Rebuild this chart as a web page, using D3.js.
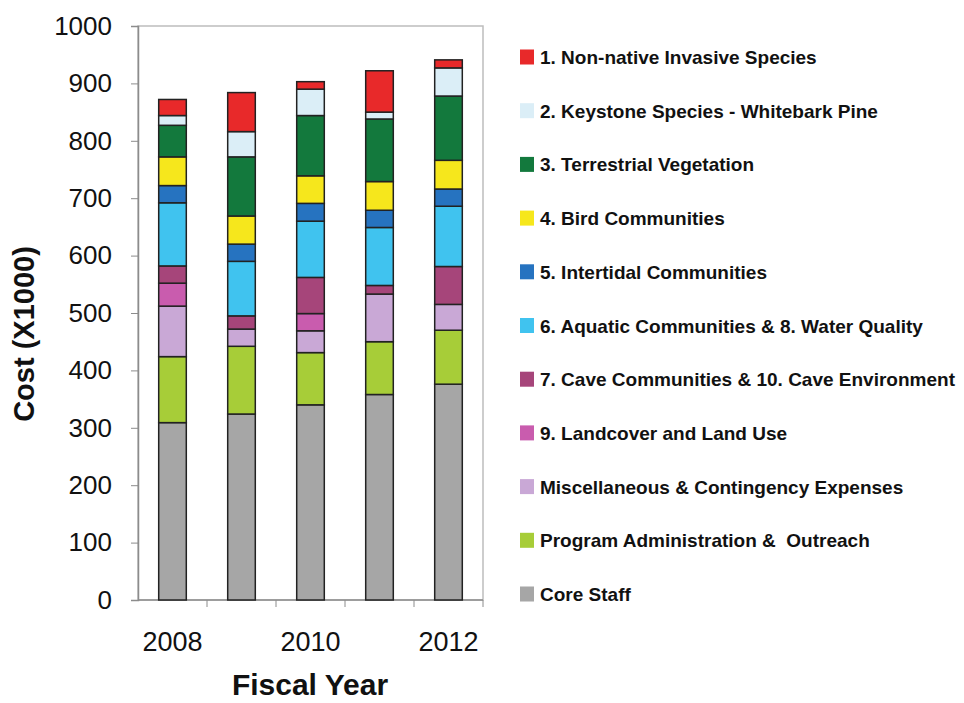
<!DOCTYPE html>
<html>
<head>
<meta charset="utf-8">
<script src="https://cdn.jsdelivr.net/npm/d3@7"></script>
<style>
  body { margin: 0; background: #fff; }
  svg text { font-family: "Liberation Sans", Arial, sans-serif; fill: #111; white-space: pre; }
</style>
</head>
<body>
<svg id="chart" width="964" height="703"></svg>
<script>
// fiscal years on the x axis
const years = ["2008", "2009", "2010", "2011", "2012"];
const yearLabels = ["2008", "", "2010", "", "2012"];
const yTicks = [0, 100, 200, 300, 400, 500, 600, 700, 800, 900, 1000];

// stacked from the bottom up (core staff first)
const categories = [
    "Core Staff",
    "Program Administration &  Outreach",
    "Miscellaneous & Contingency Expenses",
    "9. Landcover and Land Use",
    "7. Cave Communities & 10. Cave Environment",
    "6. Aquatic Communities & 8. Water Quality",
    "5. Intertidal Communities",
    "4. Bird Communities",
    "3. Terrestrial Vegetation",
    "2. Keystone Species - Whitebark Pine",
    "1. Non-native Invasive Species"
];
const colors = ["#a6a6a6", "#a7cd38", "#c9a8d6", "#c95cae", "#a6457a", "#40c3ef",
                "#2673c0", "#f6e71c", "#13793d", "#dbeef7", "#e8292a"];

// cost (x1000) per category, one value per year
const coreStaff   = [309, 324, 340, 358, 376];
const adminOut    = [115, 118, 91, 92, 94];
const misc        = [88, 30, 38, 83, 45];
const landcover   = [40, 0, 30, 0, 0];
const cave        = [30, 23, 63, 15, 66];
const aquatic     = [110, 95, 98, 101, 105];
const intertidal  = [30, 30, 31, 30, 30];
const birds       = [50, 49, 48, 50, 50];
const terrestrial = [55, 103, 105, 109, 112];
const keystone    = [17, 44, 46, 12, 49];
const invasive    = [28, 68, 13, 72, 14];

const series = [coreStaff, adminOut, misc, landcover, cave, aquatic,
                intertidal, birds, terrestrial, keystone, invasive];

const svg = d3.select("#chart");
const margin = {left: 138, top: 26, right: 483, bottom: 600};

const x = d3.scaleBand().domain(years).range([margin.left, margin.right]).paddingInner(0.6).paddingOuter(0.3);
const xb = d3.scaleBand().domain(years).range([margin.left, margin.right]);
const y = d3.scaleLinear().domain([0, 1000]).range([margin.bottom, margin.top]);

const table = years.map((yr, i) => {
    const row = {year: yr};
    categories.forEach((c, k) => row[c] = series[k][i]);
    return row;
});
const stacked = d3.stack().keys(categories)(table);

// plot frame
svg.append("rect")
    .attr("x", margin.left).attr("y", margin.top)
    .attr("width", margin.right - margin.left).attr("height", margin.bottom - margin.top)
    .attr("fill", "none").attr("stroke", "#bdbdbd").attr("stroke-width", 1.5);

// y axis
const yAxis = svg.append("g")
    .attr("transform", `translate(${margin.left},0)`)
    .call(d3.axisLeft(y).tickValues(yTicks).tickFormat(d3.format("d")).tickSize(7).tickPadding(19));
yAxis.select(".domain").attr("stroke", "#8c8c8c").attr("stroke-width", 1.5);
yAxis.selectAll(".tick line").attr("stroke", "#8c8c8c");
yAxis.selectAll("text").attr("font-size", 26).attr("fill", "#111");

// x axis: ticks sit between the bars
const xAxis = svg.append("g").attr("transform", `translate(0,${margin.bottom})`);
xAxis.append("line")
    .attr("x1", margin.left).attr("x2", margin.right)
    .attr("stroke", "#8c8c8c").attr("stroke-width", 1.5);
xAxis.selectAll("line.tick")
    .data(years)
    .enter().append("line")
    .attr("class", "tick")
    .attr("x1", d => xb(d) + xb.bandwidth()).attr("x2", d => xb(d) + xb.bandwidth())
    .attr("y1", 0).attr("y2", 7)
    .attr("stroke", "#8c8c8c");
xAxis.selectAll("text")
    .data(years)
    .enter().append("text")
    .attr("x", d => x(d) + x.bandwidth() / 2)
    .attr("y", 51)
    .attr("text-anchor", "middle")
    .attr("font-size", 27)
    .text((d, i) => yearLabels[i]);

// bars
svg.append("g").selectAll("g")
    .data(stacked)
    .enter().append("g")
    .attr("fill", (d, i) => colors[i])
    .selectAll("rect")
    .data(d => d.filter(s => s[1] > s[0]))
    .enter().append("rect")
    .attr("x", d => x(d.data.year))
    .attr("y", d => y(d[1]))
    .attr("width", x.bandwidth())
    .attr("height", d => y(d[0]) - y(d[1]))
    .attr("stroke", "#222")
    .attr("stroke-width", 1.5);

// axis titles
svg.append("text")
    .attr("transform", "translate(34,334) rotate(-90)")
    .attr("text-anchor", "middle")
    .attr("font-size", 29)
    .attr("font-weight", "bold")
    .text("Cost (X1000)");
svg.append("text")
    .attr("x", 310).attr("y", 695)
    .attr("text-anchor", "middle")
    .attr("font-size", 30)
    .attr("font-weight", "bold")
    .text("Fiscal Year");

// legend, top to bottom
const legendItems = categories.map((c, i) => ({name: c, color: colors[i]})).reverse();
const legend = svg.append("g").selectAll("g")
    .data(legendItems)
    .enter().append("g")
    .attr("transform", (d, i) => `translate(520,${57 + i * 53.7})`);
legend.append("rect")
    .attr("x", 0).attr("y", -7.5)
    .attr("width", 14).attr("height", 15)
    .attr("fill", d => d.color);
legend.append("text")
    .attr("x", 20).attr("y", 7)
    .attr("font-size", 19)
    .attr("font-weight", "bold")
    .text(d => d.name);
</script>
</body>
</html>
